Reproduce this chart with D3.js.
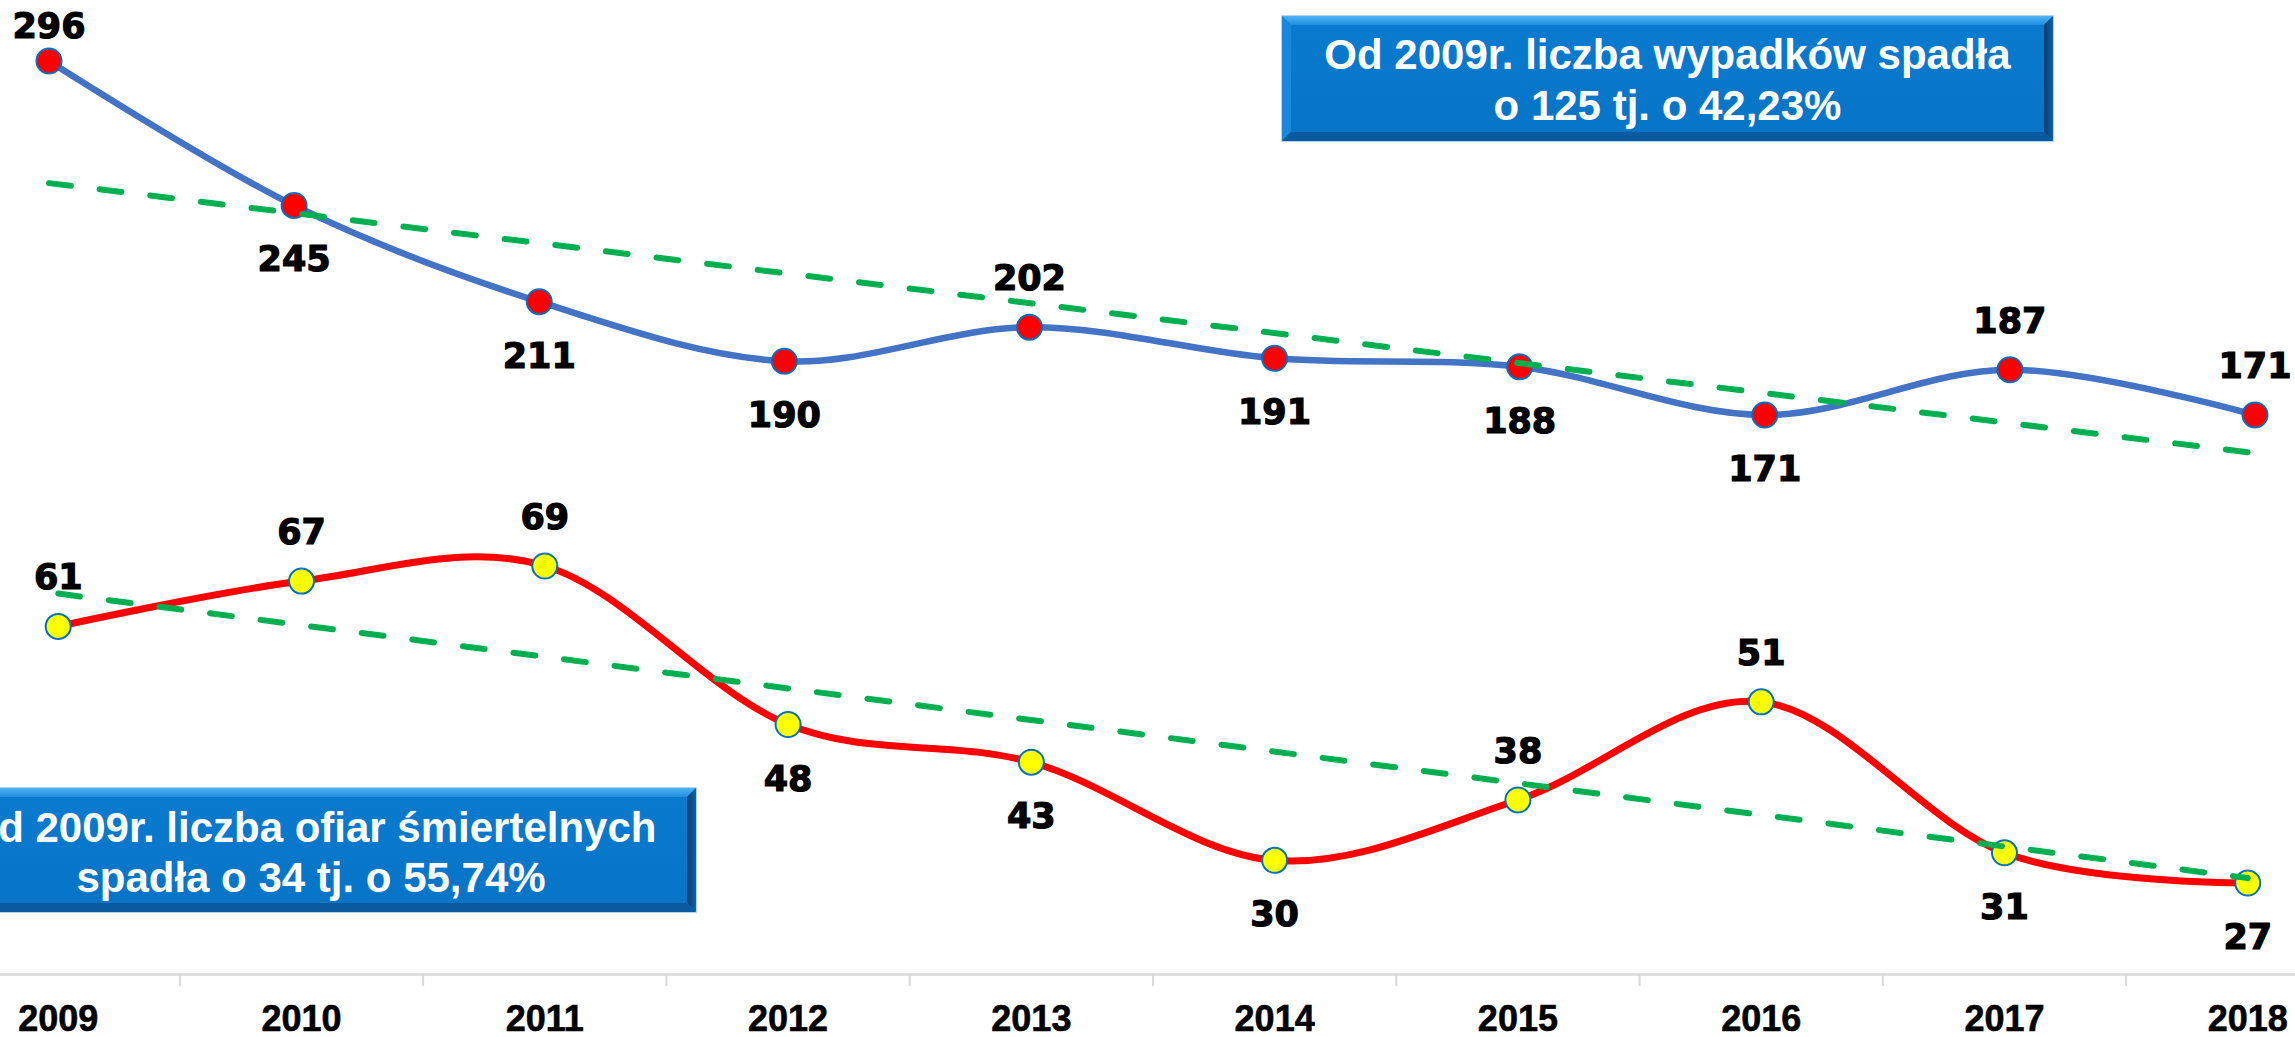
<!DOCTYPE html>
<html>
<head>
<meta charset="utf-8">
<script src="https://cdn.jsdelivr.net/npm/d3@7"></script>
<style>
body { margin: 0; background: #ffffff; }
.valueLabel { font-family: "DejaVu Sans", sans-serif; font-weight: bold; font-size: 35px; fill: #000000; stroke: #000000; stroke-width: 1.2px; }
.axisLabel { font-family: "Liberation Sans", Arial, sans-serif; font-weight: bold; font-size: 36px; fill: #000000; stroke: #000000; stroke-width: 0.6px; }
.boxLabel { font-family: "Liberation Sans", Arial, sans-serif; font-weight: bold; font-size: 42px; fill: #ffffff; }
</style>
</head>
<body>
<div id="chart"></div>
<script>
var years = ["2009", "2010", "2011", "2012", "2013", "2014", "2015", "2016", "2017", "2018"];
var accidents = [296, 245, 211, 190, 202, 191, 188, 171, 187, 171];
var fatalities = [61, 67, 69, 48, 43, 30, 38, 51, 31, 27];

// where each value label sits relative to its point
var accidentLabelSide = ["above", "below", "below", "below", "above", "below", "below", "below", "above", "above"];
var fatalityLabelSide = ["above", "above", "above", "below", "below", "below", "above", "above", "below", "below"];

var accidentsNote = ["Od 2009r. liczba wypadków spadła", "o 125 tj. o 42,23%"];
var fatalitiesNote = ["Od 2009r. liczba ofiar śmiertelnych", "spadła o 34 tj. o 55,74%"];

var width = 2295, height = 1037;
var axisY = 974;

var svg = d3.select("#chart").append("svg")
	.attr("width", width)
	.attr("height", height);

svg.append("rect")
	.attr("width", width)
	.attr("height", height)
	.style("fill", "#ffffff");

// two overlaid charts, each with its own scales
var xTop = d3.scalePoint().domain(years).range([49, 2255]);
var yTop = d3.scaleLinear().domain([171, 296]).range([415, 61]);

var xBot = d3.scaleBand().domain(years).range([-63.4, 2369.4]);
var yBot = d3.scaleLinear().domain([27, 69]).range([883, 566]);

function botX(d){ return xBot(d) + xBot.bandwidth() / 2; }

function linearFit(values){
	var n = values.length;
	var mx = (n - 1) / 2;
	var my = d3.mean(values);
	var sxy = 0, sxx = 0;
	for(var i = 0; i < n; i++){
		sxy += (i - mx) * (values[i] - my);
		sxx += (i - mx) * (i - mx);
	}
	var slope = sxy / sxx;
	return [my - slope * mx, my + slope * (n - 1 - mx)];
}

// category axis
var axis = svg.append("g")
	.attr("transform", "translate(0," + axisY + ")")
	.call(d3.axisBottom(xBot).tickSize(0).tickSizeOuter(0).tickPadding(31));
axis.attr("font-size", null).attr("font-family", null);
axis.select(".domain")
	.style("stroke", "#d9d9d9")
	.style("stroke-width", 2.5);
axis.selectAll("text")
	.attr("class", "axisLabel")
	.attr("fill", null);

svg.selectAll(".bandTick")
	.data(years.slice(1))
	.enter().append("line")
	.attr("class", "bandTick")
	.attr("x1", function(d){ return xBot(d); })
	.attr("x2", function(d){ return xBot(d); })
	.attr("y1", axisY)
	.attr("y2", axisY + 12)
	.style("stroke", "#d9d9d9")
	.style("stroke-width", 2);

var smooth = d3.curveCatmullRom.alpha(0);

var topLine = d3.line()
	.x(function(d, i){ return xTop(years[i]); })
	.y(function(d){ return yTop(d); })
	.curve(smooth);

var botLine = d3.line()
	.x(function(d, i){ return botX(years[i]); })
	.y(function(d){ return yBot(d); })
	.curve(smooth);

svg.append("path")
	.datum(accidents)
	.attr("d", topLine)
	.style("fill", "none")
	.style("stroke", "#4472c4")
	.style("stroke-width", 6.5);

svg.append("path")
	.datum(fatalities)
	.attr("d", botLine)
	.style("fill", "none")
	.style("stroke", "#ff0000")
	.style("stroke-width", 7);

svg.selectAll(".accPoint")
	.data(accidents)
	.enter().append("circle")
	.attr("class", "accPoint")
	.attr("cx", function(d, i){ return xTop(years[i]); })
	.attr("cy", function(d){ return yTop(d); })
	.attr("r", 12.5)
	.style("fill", "#ff0000")
	.style("stroke", "#0070c0")
	.style("stroke-width", 2);

svg.selectAll(".fatPoint")
	.data(fatalities)
	.enter().append("circle")
	.attr("class", "fatPoint")
	.attr("cx", function(d, i){ return botX(years[i]); })
	.attr("cy", function(d){ return yBot(d); })
	.attr("r", 12.5)
	.style("fill", "#ffff00")
	.style("stroke", "#0070c0")
	.style("stroke-width", 2);

// linear trend lines
var topFit = linearFit(accidents);
var botFit = linearFit(fatalities);

svg.append("line")
	.attr("x1", xTop(years[0]))
	.attr("y1", yTop(topFit[0]))
	.attr("x2", xTop(years[years.length-1]))
	.attr("y2", yTop(topFit[1]))
	.style("stroke", "#00b050")
	.style("stroke-width", 6)
	.style("stroke-linecap", "round")
	.style("stroke-dasharray", "22,29");

svg.append("line")
	.attr("x1", botX(years[0]))
	.attr("y1", yBot(botFit[0]))
	.attr("x2", botX(years[years.length-1]))
	.attr("y2", yBot(botFit[1]))
	.style("stroke", "#00b050")
	.style("stroke-width", 6)
	.style("stroke-linecap", "round")
	.style("stroke-dasharray", "22,29");

// value labels
svg.selectAll(".accLabel")
	.data(accidents)
	.enter().append("text")
	.attr("class", "valueLabel")
	.attr("text-anchor", "middle")
	.attr("x", function(d, i){ return xTop(years[i]); })
	.attr("y", function(d, i){
		var py = yTop(d);
		if(accidentLabelSide[i] == "above")
			return Math.max(py - 37, 38);
		return py + 66;
	})
	.text(function(d){ return d; });

svg.selectAll(".fatLabel")
	.data(fatalities)
	.enter().append("text")
	.attr("class", "valueLabel")
	.attr("text-anchor", "middle")
	.attr("x", function(d, i){ return botX(years[i]); })
	.attr("y", function(d, i){
		var py = yBot(d);
		if(fatalityLabelSide[i] == "above")
			return py - 37;
		return py + 66;
	})
	.text(function(d){ return d; });

// bevelled note boxes
var defs = svg.append("defs");
var topGrad = defs.append("linearGradient").attr("id", "bevelTop")
	.attr("x1", 0).attr("y1", 0).attr("x2", 0).attr("y2", 1);
topGrad.append("stop").attr("offset", "0%").attr("stop-color", "#4fb3f7");
topGrad.append("stop").attr("offset", "100%").attr("stop-color", "#1f8ee0");
var rightGrad = defs.append("linearGradient").attr("id", "bevelRight")
	.attr("x1", 0).attr("y1", 0).attr("x2", 1).attr("y2", 0);
rightGrad.append("stop").attr("offset", "0%").attr("stop-color", "#053c70");
rightGrad.append("stop").attr("offset", "100%").attr("stop-color", "#0d62ad");
var faceGrad = defs.append("linearGradient").attr("id", "boxFace")
	.attr("x1", 0).attr("y1", 0).attr("x2", 0).attr("y2", 1);
faceGrad.append("stop").attr("offset", "0%").attr("stop-color", "#0a7bd0");
faceGrad.append("stop").attr("offset", "100%").attr("stop-color", "#0674c6");

function drawNote(x, y, w, h, lines, baselines){
	var b = 9;
	var g = svg.append("g").attr("transform", "translate(" + x + "," + y + ")");
	g.append("rect")
		.attr("width", w)
		.attr("height", h)
		.style("fill", "url(#boxFace)")
		.style("stroke", "#9cc3e6")
		.style("stroke-width", 1.5);
	g.append("polygon")
		.attr("points", [[0,0],[w,0],[w-b,b],[b,b]].join(" "))
		.style("fill", "url(#bevelTop)");
	g.append("polygon")
		.attr("points", [[0,0],[b,b],[b,h-b],[0,h]].join(" "))
		.style("fill", "#1a87da");
	g.append("polygon")
		.attr("points", [[w,0],[w,h],[w-b,h-b],[w-b,b]].join(" "))
		.style("fill", "url(#bevelRight)");
	g.append("polygon")
		.attr("points", [[0,h],[w,h],[w-b,h-b],[b,h-b]].join(" "))
		.style("fill", "#0a5a9f");
	g.selectAll(".boxLabel")
		.data(lines)
		.enter().append("text")
		.attr("class", "boxLabel")
		.attr("text-anchor", "middle")
		.attr("x", w / 2)
		.attr("y", function(d, i){ return baselines[i]; })
		.text(function(d){ return d; });
}

drawNote(1282, 16, 771, 125, accidentsNote, [53, 104]);
drawNote(-74, 788, 770, 124, fatalitiesNote, [54, 104]);
</script>
</body>
</html>
